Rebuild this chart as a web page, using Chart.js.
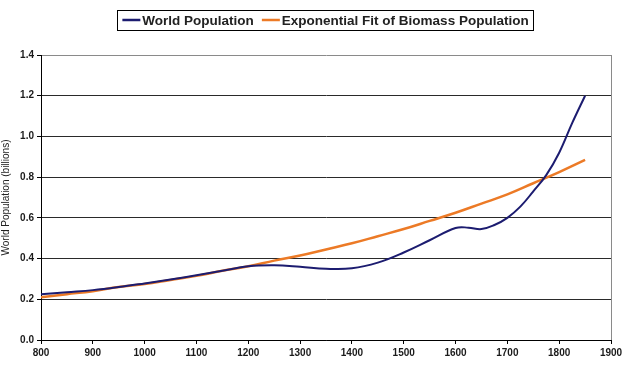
<!DOCTYPE html>
<html>
<head>
<meta charset="utf-8">
<script src="https://cdn.jsdelivr.net/npm/chart.js@4"></script>
<style>
  html, body { margin: 0; padding: 0; background: #fff; }
  #wrap { width: 640px; height: 373px; }
</style>
</head>
<body>
<div id="wrap"><canvas id="grafica" width="640" height="373"></canvas></div>
<script>
const popYears  = [800, 850, 900, 950, 1000, 1050, 1100, 1150, 1200, 1250, 1300, 1350, 1400, 1450, 1500, 1550, 1600, 1625, 1650, 1675, 1700, 1725, 1750, 1775, 1800, 1825, 1850];
const popValues = [0.225, 0.235, 0.245, 0.26, 0.278, 0.297, 0.318, 0.34, 0.362, 0.367, 0.36, 0.35, 0.352, 0.38, 0.43, 0.49, 0.55, 0.552, 0.545, 0.565, 0.60, 0.655, 0.73, 0.81, 0.92, 1.065, 1.2];

const fitYears  = [800, 850, 900, 950, 1000, 1050, 1100, 1150, 1200, 1250, 1300, 1350, 1400, 1450, 1500, 1550, 1600, 1650, 1700, 1750, 1800, 1850];
const fitValues = [0.21, 0.225, 0.24, 0.26, 0.275, 0.295, 0.315, 0.34, 0.362, 0.39, 0.415, 0.445, 0.475, 0.51, 0.545, 0.585, 0.625, 0.67, 0.715, 0.77, 0.825, 0.885];

const xTicks = [800, 900, 1000, 1100, 1200, 1300, 1400, 1500, 1600, 1700, 1800, 1900];
const yTicks = [0.0, 0.2, 0.4, 0.6, 0.8, 1.0, 1.2, 1.4];

const seriesNames = ['World Population', 'Exponential Fit of Biomass Population'];
const seriesColors = ['#1c1c70', '#ec7a26'];

const fuente = '"Liberation Sans", Arial, sans-serif';

// leyenda con recuadro, dibujada arriba del grafico
const leyendaCaja = {
    id: 'leyendaCaja',
    afterDraw(chart) {
        const ctx = chart.ctx;
        ctx.save();
        ctx.font = 'bold 13.5px ' + fuente;
        ctx.textBaseline = 'middle';
        const linea = 18, gap = 2, sep = 8, pad = 5;
        const anchos = seriesNames.map(n => ctx.measureText(n).width);
        let total = pad * 2;
        anchos.forEach((w, i) => { total += linea + gap + w + (i < anchos.length - 1 ? sep : 0); });
        const cx = 325.5;
        let x = cx - total / 2;
        const top = 10, h = 20, cy = top + h / 2;
        ctx.strokeStyle = '#000';
        ctx.lineWidth = 1;
        ctx.strokeRect(Math.round(x) + 0.5, top + 0.5, Math.round(total), h);
        x += pad;
        seriesNames.forEach((n, i) => {
            ctx.strokeStyle = seriesColors[i];
            ctx.lineWidth = 2.5;
            ctx.beginPath();
            ctx.moveTo(x, cy);
            ctx.lineTo(x + linea, cy);
            ctx.stroke();
            x += linea + gap;
            ctx.fillStyle = '#222';
            ctx.fillText(n, x, cy + 1);
            x += anchos[i] + sep;
        });
        ctx.restore();
    }
};

const ctx = document.getElementById('grafica').getContext('2d');
const myChart = new Chart(ctx, {
    type: 'line',
    data: {
        datasets: [{
            label: seriesNames[0],
            data: popYears.map((y, i) => ({ x: y, y: popValues[i] })),
            borderColor: seriesColors[0],
            borderWidth: 2,
            pointRadius: 0,
            tension: 0.4,
            fill: false
        }, {
            label: seriesNames[1],
            data: fitYears.map((y, i) => ({ x: y, y: fitValues[i] })),
            borderColor: seriesColors[1],
            borderWidth: 2.5,
            pointRadius: 0,
            tension: 0.4,
            fill: false
        }]
    },
    options: {
        responsive: false,
        animation: false,
        layout: { padding: { top: 55, right: 29, bottom: 0, left: 0 } },
        plugins: {
            legend: { display: false },
            tooltip: { enabled: false }
        },
        scales: {
            x: {
                type: 'linear',
                min: 800,
                max: 1900,
                afterBuildTicks: s => { s.ticks = xTicks.map(v => ({ value: v })); },
                afterFit: s => { s.height = 33; },
                ticks: {
                    color: '#1a1a1a',
                    font: { family: fuente, size: 10, weight: 'bold' },
                    padding: 3,
                    maxRotation: 0,
                    callback: v => String(v)
                },
                grid: {
                    color: c => (c.tick && c.tick.value === 1900) ? '#8a8a8a' : 'rgba(0,0,0,0)',
                    tickColor: '#000',
                    tickLength: 4,
                    drawOnChartArea: true
                },
                border: { color: '#000', width: 1 }
            },
            y: {
                min: 0,
                max: 1.4,
                afterBuildTicks: s => { s.ticks = yTicks.map(v => ({ value: v })); },
                afterFit: s => { s.width = 41; },
                ticks: {
                    color: '#1a1a1a',
                    font: { family: fuente, size: 10, weight: 'bold' },
                    padding: 3,
                    callback: v => Number(v).toFixed(1)
                },
                grid: {
                    color: c => (c.tick && c.tick.value === 1.4) ? '#8a8a8a' : '#2a2a2a',
                    tickColor: '#000',
                    tickLength: 4
                },
                border: { color: '#000', width: 1 },
                title: {
                    display: true,
                    text: 'World Population (billions)',
                    color: '#222',
                    font: { family: fuente, size: 10 },
                    padding: 0
                }
            }
        }
    },
    plugins: [leyendaCaja]
});
</script>
</body>
</html>
